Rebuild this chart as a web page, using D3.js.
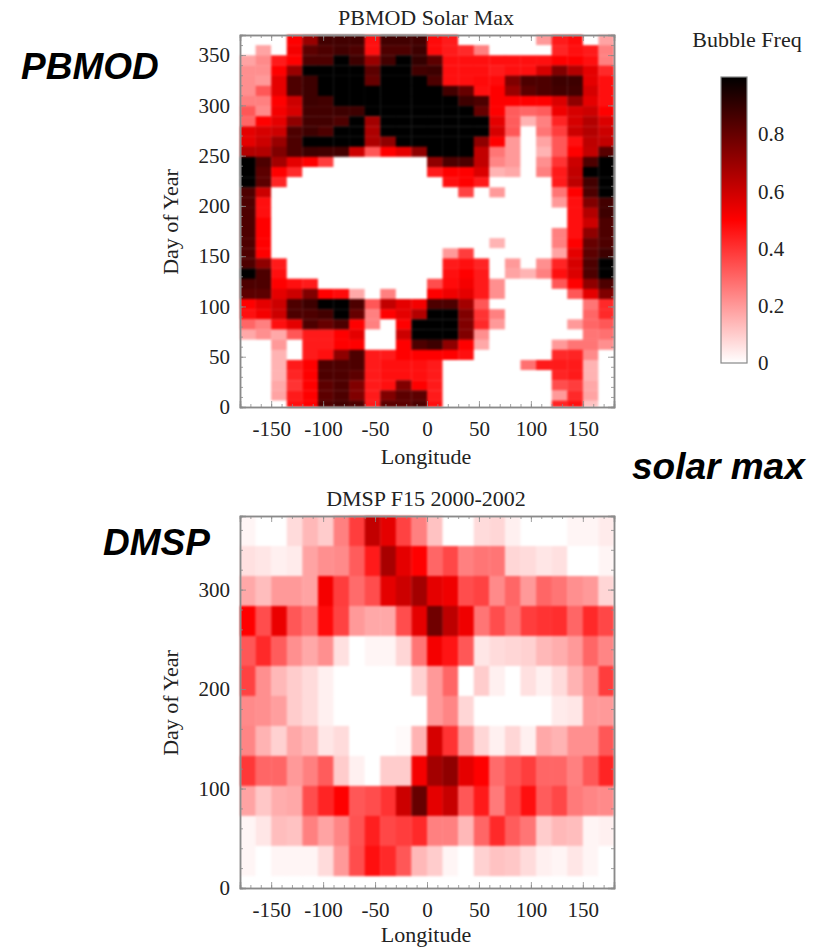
<!DOCTYPE html>
<html>
<head>
<meta charset="utf-8">
<script src="https://cdn.jsdelivr.net/npm/d3@7"></script>
<style>
	body { margin: 0; background: #fff; }
	svg { display: block; }
	text { font-family: "Liberation Serif", serif; fill: #222; }
	.note { font-family: "Liberation Sans", sans-serif; font-weight: bold; font-style: italic; font-size: 37px; fill: #000; }
	.axis path, .axis line { stroke: #8a8a8a; }
	.axis path { stroke-width: 1.5; }
</style>
</head>
<body>
<svg width="823" height="948"></svg>
<script>
// left edge of every longitude bin
var lonEdges = d3.range(-180, 180, 15);
var lonStep = 15;

// rows run from the top of the panel down: high day of year first
var pbmodFreq = [
	[0,0,0,.5,.7,.87,.87,.87,.47,.87,.87,.87, .48,.45,0,0,0,0,0,.2,.45,.48,0,.18],
	[0,.18,0,.52,.82,.85,.87,.85,.47,.85,.85,.88, .48,.45,.42,.25,0,0,0,0,.43,.47,.45,.25],
	[.18,.23,.45,.5,.85,.85,1,.88,.7,.87,1,.9, .82,.47,.47,.47,.47,.47,.47,.47,.5,.5,.47,.25],
	[.22,.22,.5,.7,1,1,1,1,.82,1,1,.87, .88,.47,.47,.47,.45,.47,.47,.58,.75,.65,.55,.42],
	[.22,.2,.55,.85,.88,1,1,1,.8,1,1,1, .85,.47,.47,.48,.48,.75,.85,.85,.88,.88,.55,.47],
	[.22,.33,.55,.85,.88,1,1,1,1,1,1,1, 1,.87,.8,.47,.5,.7,.82,.85,.87,.87,.58,.47],
	[.25,.25,.5,.6,.88,.87,1,1,1,1,1,1, 1,1,.88,.85,.5,.5,.5,.5,.57,.72,.55,.47],
	[.33,.23,.52,.58,.87,.87,.88,.88,1,1,1,1, 1,1,1,.8,.5,.32,.3,.32,.53,.58,.6,.5],
	[.3,.5,.55,.72,.87,.87,.85,1,.68,1,1,1, 1,1,1,1,.55,.32,.15,.25,.43,.58,.65,.57],
	[.55,.58,.6,.85,.88,.85,1,1,.66,1,1,1, 1,1,1,1,.58,.33,0,.27,.38,.6,.65,.6],
	[.55,.6,.7,.85,1,1,1,1,.66,.72,1,1, 1,1,1,.72,.5,.2,0,.18,.33,.47,.63,.62],
	[.65,.65,.75,.85,.88,.87,.87,.6,.33,.5,.55,.72, 1,1,1,.62,.27,.2,0,.15,.33,.5,.62,.83],
	[1,.85,.68,.55,.5,.38,0,0,0,0,0,0, .72,.85,.85,.62,.24,.2,0,.22,.4,.6,.85,1],
	[1,.82,.5,.42,0,0,0,0,0,0,0,0, .45,.5,.5,.57,.15,.17,0,.25,.45,.62,1,1],
	[1,.82,.43,0,0,0,0,0,0,0,0,0, 0,.47,.5,.45,0,0,0,0,.45,.63,.87,1],
	[.85,.6,0,0,0,0,0,0,0,0,0,0, 0,0,.37,0,.2,0,0,0,.27,.5,.85,1],
	[.85,.47,0,0,0,0,0,0,0,0,0,0, 0,0,0,0,0,0,0,0,.2,.47,.75,.87],
	[.85,.47,0,0,0,0,0,0,0,0,0,0, 0,0,0,0,0,0,0,0,0,.47,.65,.88],
	[.85,.5,0,0,0,0,0,0,0,0,0,0, 0,0,0,0,0,0,0,0,0,.47,.6,.85],
	[.85,.5,0,0,0,0,0,0,0,0,0,0, 0,0,0,0,0,0,0,0,.25,.47,.72,.85],
	[.85,.5,0,0,0,0,0,0,0,0,0,0, 0,0,0,0,.15,0,0,0,.25,.5,.8,.85],
	[.85,.5,0,0,0,0,0,0,0,0,0,0, 0,.2,.38,0,0,0,0,0,.18,.55,.82,.88],
	[.85,.72,.45,0,0,0,0,0,0,0,0,0, 0,.45,.47,.43,0,.2,0,.22,.43,.58,.85,1],
	[1,.85,.47,0,0,0,0,0,0,0,0,0, 0,.47,.5,.45,0,.18,.15,.25,.47,.57,.85,1],
	[.85,.85,.5,.47,.45,0,0,0,0,0,0,0, .35,.48,.52,.45,.22,0,0,0,.33,.5,.72,.85],
	[.82,.82,.55,.6,.75,.5,.48,.17,0,.25,0,0, .5,.53,.55,.45,.22,0,0,0,0,.33,.55,.75],
	[.5,.55,.6,.85,.88,1,1,.85,.33,.62,.55,.52, .85,.85,.68,.33,0,0,0,0,0,0,.27,.42],
	[.47,.52,.6,.85,.85,.87,1,.8,.25,.5,.55,.65, 1,1,.75,.4,.25,0,0,0,0,0,.3,.42],
	[.3,.25,.47,.55,.85,.8,.85,.5,.25,0,.5,1, 1,1,.75,.42,.2,0,0,0,0,.2,.3,.33],
	[.17,.22,.17,.33,.45,.45,.5,.55,0,0,.6,1, 1,1,.75,.22,0,0,0,0,0,0,.27,.28],
	[0,0,.2,0,.45,.45,.5,.5,0,0,.5,.85, .88,.72,.5,.17,0,0,0,0,.2,.27,.27,.22],
	[0,0,.15,0,.45,.47,.72,.85,.45,.45,.5,.5, .5,.5,.47,0,0,0,0,0,.42,.43,.23,0],
	[0,0,.15,.45,.5,.85,.85,.85,.45,.47,.47,.47, .45,0,0,0,0,0,.28,.45,.45,.45,.15,0],
	[0,0,.15,.43,.5,.85,.85,.82,.45,.47,.47,.47, .45,0,0,0,0,0,0,0,.43,.45,.15,0],
	[0,0,.17,.4,.5,.82,.85,.75,.45,.47,.75,.5, .45,0,0,0,0,0,0,0,.35,.38,.17,0],
	[0,0,.18,.45,.5,.82,.85,.75,.45,.75,.82,.82, .45,0,0,0,0,0,0,0,.2,.42,.18,0],
	[0,0,0,.47,.5,.85,.87,.85,.45,.82,.82,.85, .47,0,0,0,0,0,0,0,.43,.47,.12,0]
];

var dmspFreq = [
	[.02,0,0,.07,.14,.1,.25,.38,.62,.55,.37,.25, .12,0,0,.07,.08,.03,0,0,0,.02,.02,.04],
	[.06,.05,.03,.04,.18,.22,.23,.32,.45,.67,.55,.5, .3,.36,.25,.27,.27,.08,.07,.05,.06,0,0,.02],
	[.17,.13,.2,.2,.18,.52,.38,.29,.35,.55,.6,.68, .55,.53,.35,.37,.23,.3,.2,.3,.27,.22,.2,.08],
	[.5,.35,.54,.33,.28,.48,.37,.2,.17,.17,.35,.55, .78,.63,.53,.27,.35,.28,.38,.4,.41,.3,.42,.36],
	[.33,.42,.32,.22,.17,.22,.06,0,.02,.02,.08,.27, .52,.46,.33,.05,.07,.08,.09,.14,.16,.2,.3,.24],
	[.37,.22,.14,.1,.07,.03,0,0,0,0,0,.09, .2,.3,0,.1,.03,0,.06,.03,.07,.15,.22,.38],
	[.23,.22,.19,.1,.07,.03,0,0,0,0,0,0, .2,.24,.08,0,0,0,0,0,.04,.05,.2,.2],
	[.24,.15,.09,.17,.14,.05,.07,0,0,0,.01,.15, .58,.4,.2,.08,.03,.08,.03,.17,.15,.22,.22,.33],
	[.39,.3,.3,.2,.25,.32,.1,.03,0,.1,.1,.52, .68,.72,.55,.5,.29,.34,.38,.3,.3,.25,.33,.43],
	[.18,.11,.16,.17,.35,.43,.5,.33,.35,.4,.6,.8, .55,.61,.33,.45,.26,.37,.47,.32,.36,.26,.24,.23],
	[.02,.05,.13,.12,.25,.18,.24,.34,.44,.36,.38,.42, .25,.25,.14,.3,.42,.32,.27,.1,.14,.13,.02,.03],
	[.02,0,.02,.02,.02,.07,.2,.35,.47,.42,.33,.14, .1,.02,0,.09,.12,.11,.07,.03,.02,.05,.02,0]
];

var lonTicks = [-150, -100, -50, 0, 50, 100, 150];
var pbmodDayTicks = [0, 50, 100, 150, 200, 250, 300, 350];
var dmspDayTicks = [0, 100, 200, 300];
var barTicks = [0, 0.2, 0.4, 0.6, 0.8];

var svg = d3.select('svg');

var color = d3.scaleLinear()
	.domain([0, 0.5, 1])
	.range(['#ffffff', '#ff0000', '#000000']);

var x = d3.scaleLinear().domain([-180, 180]).range([240, 614]);

function tickLabel(d){ return d === 0 ? '0' : String(d) };

function styleLabels(sel){
	sel.select('.domain').remove();
	sel.selectAll('text')
		.style('font-size', '21px')
		.style('font-family', '"Liberation Serif", serif')
		.style('fill', '#222');
};

function drawPanel(opts){
	var y = d3.scaleLinear().domain([0, opts.dayMax]).range([opts.bottom, opts.top]);

	// one group per row of the matrix
	var rows = svg.append('g')
		.style('filter', 'blur(0.8px)')
		.selectAll('g')
		.data(opts.values)
		.enter()
		.append('g');

	rows.each(function(row, r){
		var dayHigh = opts.dayMax - r * opts.dayStep;
		var dayLow = Math.max(0, dayHigh - opts.dayStep);
		d3.select(this).selectAll('rect')
			.data(row)
			.enter()
			.append('rect')
				.attr('x', function(d, i){ return x(lonEdges[i]) })
				.attr('width', x(lonStep) - x(0) + 0.3)
				.attr('y', y(dayHigh))
				.attr('height', y(dayLow) - y(dayHigh) + 0.3)
				.style('fill', function(d){ return color(d) });
	});

	var minorX = d3.range(-180, 181, 10);
	var majorX = d3.range(-150, 151, 50);

	// minor ticks on all four sides, then the longer labelled ones
	[[d3.axisBottom, opts.bottom], [d3.axisTop, opts.top]].forEach(function(a){
		svg.append('g').attr('class', 'axis')
			.attr('transform', 'translate(0,' + a[1] + ')')
			.call(a[0](x).tickValues(minorX).tickSize(-3).tickFormat(''));
		svg.append('g').attr('class', 'axis')
			.attr('transform', 'translate(0,' + a[1] + ')')
			.call(a[0](x).tickValues(majorX).tickSize(-6).tickFormat(''));
	});
	[[d3.axisLeft, 240], [d3.axisRight, 614]].forEach(function(a){
		svg.append('g').attr('class', 'axis')
			.attr('transform', 'translate(' + a[1] + ',0)')
			.call(a[0](y).tickValues(d3.range(0, opts.dayMax, opts.minorDay)).tickSize(-3).tickFormat(''));
		svg.append('g').attr('class', 'axis')
			.attr('transform', 'translate(' + a[1] + ',0)')
			.call(a[0](y).tickValues(d3.range(0, opts.dayMax, opts.majorDay)).tickSize(-6).tickFormat(''));
	});

	svg.selectAll('.axis line').style('stroke-width', 0.8);

	// labels sit outside the frame, the ticks above point inward
	svg.append('g')
		.attr('transform', 'translate(0,' + opts.bottom + ')')
		.call(d3.axisBottom(x).tickValues(lonTicks).tickSize(0).tickPadding(14).tickFormat(tickLabel))
		.call(styleLabels);

	svg.append('g')
		.attr('transform', 'translate(240,0)')
		.call(d3.axisLeft(y).tickValues(opts.dayTicks).tickSize(0).tickPadding(10).tickFormat(tickLabel))
		.call(styleLabels);

	svg.append('text')
		.attr('x', 426)
		.attr('y', opts.top - 10)
		.attr('text-anchor', 'middle')
		.style('font-size', '22px')
		.text(opts.title);

	svg.append('text')
		.attr('x', 426)
		.attr('y', opts.bottom + opts.lonGap)
		.attr('text-anchor', 'middle')
		.style('font-size', '22px')
		.text('Longitude');

	svg.append('text')
		.attr('transform', 'translate(178,' + (opts.top + 187) + ') rotate(-90)')
		.attr('text-anchor', 'middle')
		.style('font-size', '22px')
		.text('Day of Year');
};

drawPanel({
	values: pbmodFreq,
	title: 'PBMOD Solar Max',
	dayMax: 370,
	dayStep: 10.1,
	top: 35,
	bottom: 407,
	minorDay: 10,
	majorDay: 50,
	lonGap: 57,
	dayTicks: pbmodDayTicks
});

drawPanel({
	values: dmspFreq,
	title: 'DMSP F15 2000-2002',
	dayMax: 374,
	dayStep: 30.15,
	top: 516,
	bottom: 888,
	minorDay: 20,
	majorDay: 100,
	lonGap: 54,
	dayTicks: dmspDayTicks
});

// colour bar
var barY = d3.scaleLinear().domain([0, 1]).range([363, 77]);

var grad = svg.append('defs').append('linearGradient')
	.attr('id', 'freqGrad')
	.attr('x1', 0).attr('x2', 0).attr('y1', 1).attr('y2', 0);

grad.selectAll('stop')
	.data(color.domain())
	.enter()
	.append('stop')
		.attr('offset', function(d){ return d * 100 + '%' })
		.attr('stop-color', function(d){ return color(d) });

svg.append('rect')
	.attr('x', 721)
	.attr('width', 26)
	.attr('y', barY(1))
	.attr('height', barY(0) - barY(1))
	.style('fill', 'url(#freqGrad)')
	.style('stroke', '#888')
	.style('stroke-width', 1.2);

svg.append('g')
	.attr('transform', 'translate(747,0)')
	.call(d3.axisRight(barY).tickValues(barTicks).tickSize(0).tickPadding(11).tickFormat(tickLabel))
	.call(styleLabels);

svg.append('text')
	.attr('x', 747)
	.attr('y', 47)
	.attr('text-anchor', 'middle')
	.style('font-size', '22px')
	.text('Bubble Freq');

// hand written labels on the slide
svg.append('text').attr('class', 'note').attr('x', 21).attr('y', 79).text('PBMOD');
svg.append('text').attr('class', 'note').attr('x', 103).attr('y', 555).text('DMSP');
svg.append('text').attr('class', 'note').attr('x', 632).attr('y', 479).text('solar max');
</script>
</body>
</html>
